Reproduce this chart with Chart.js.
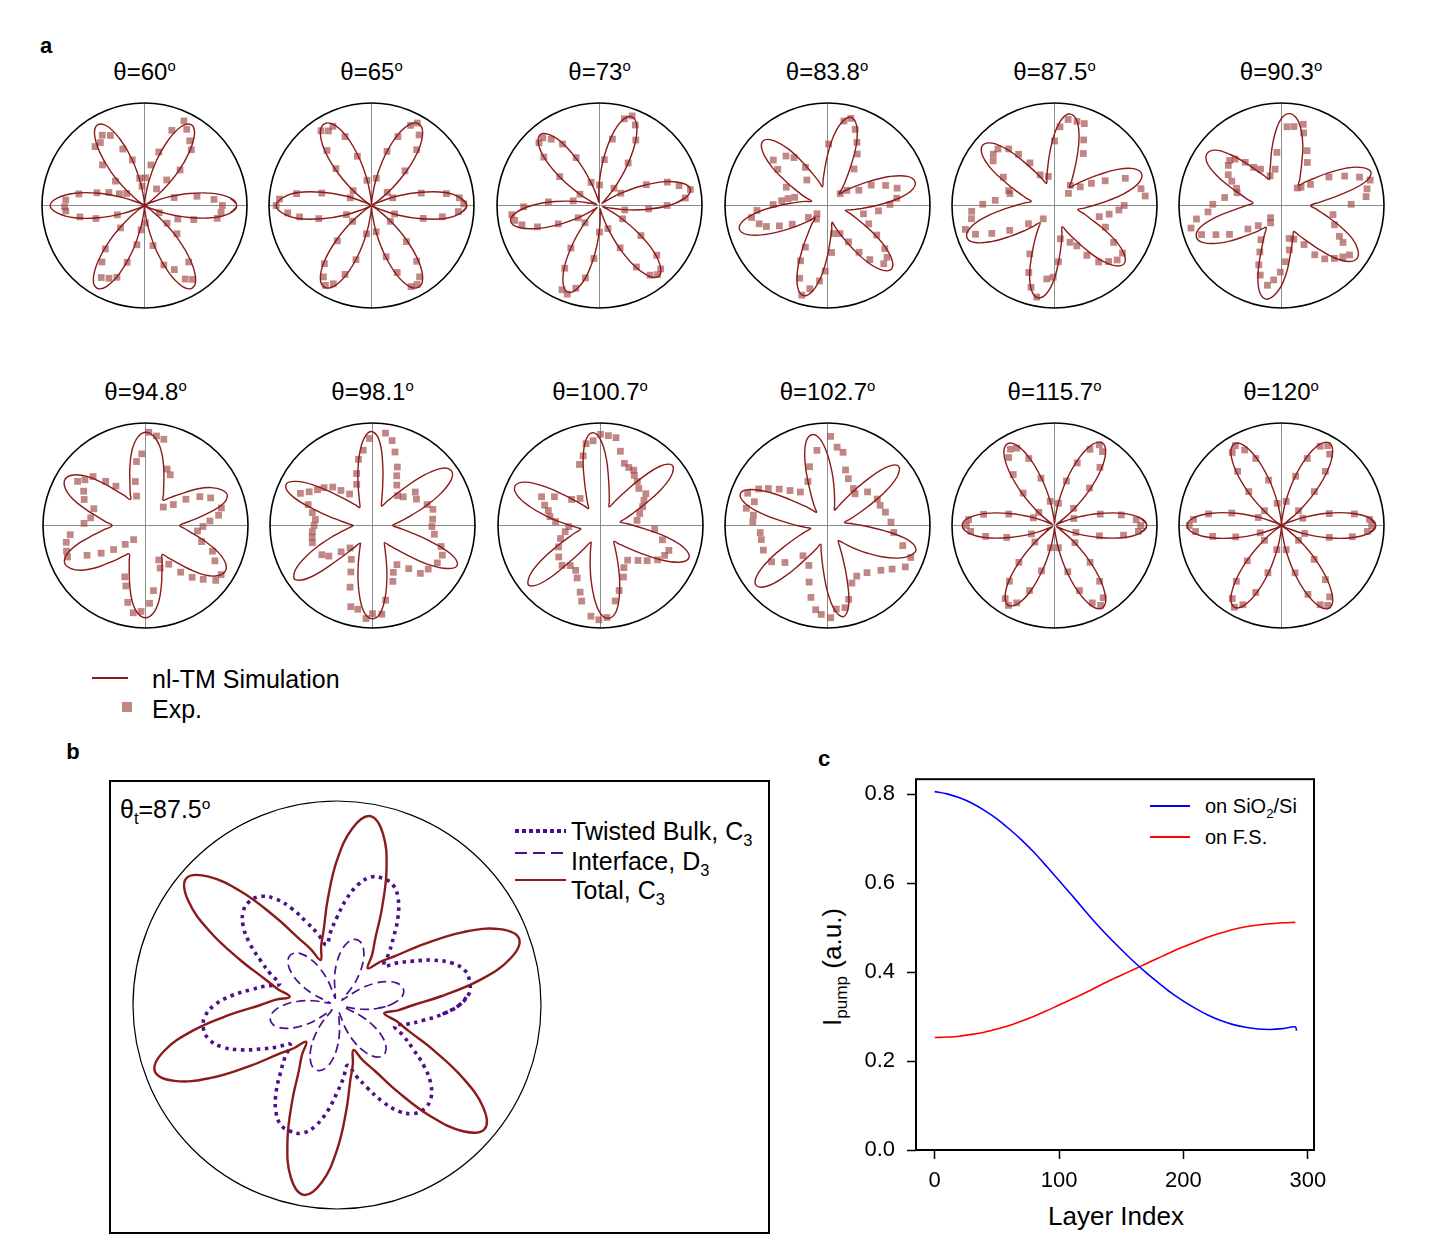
<!DOCTYPE html>
<html>
<head>
<meta charset="utf-8">
<script src="https://cdn.jsdelivr.net/npm/chart.js@4.4.1/dist/chart.umd.min.js"></script>
<style>
  body { margin: 0; background: #fff; }
  #fig { position: relative; width: 1438px; height: 1245px; overflow: hidden; font-family: "Liberation Sans", Arial, sans-serif; color: #000; }
  #fig canvas { position: absolute; }
  .t { position: absolute; white-space: nowrap; line-height: 1; }
  .c { transform: translate(-50%, -50%); }
  .l { transform: translate(0, -50%); }
  .sup { font-size: 62%; position: relative; top: -0.55em; }
  .sub { font-size: 66%; position: relative; top: 0.35em; }
  .ttl { font-size: 24px; }
  .box { position: absolute; left: 109px; top: 780px; width: 661px; height: 454px; border: 2px solid #000; box-sizing: border-box; }
</style>
</head>
<body>
<div id="fig">
  <div class="t c" style="left:46px;top:46px;font-size:22px;font-weight:bold;">a</div>
  <div class="t c" style="left:73px;top:752px;font-size:22px;font-weight:bold;">b</div>
  <div class="t c" style="left:824px;top:759px;font-size:22px;font-weight:bold;">c</div>

  <!-- legend of panel a -->
  <div style="position:absolute;left:92px;top:677px;width:36px;height:2px;background:#8b1a1a;"></div>
  <div class="t l" style="left:152px;top:679px;font-size:25px;">nl-TM Simulation</div>
  <div style="position:absolute;left:122px;top:702px;width:10px;height:10px;background:rgba(160,70,68,0.65);"></div>
  <div class="t l" style="left:152px;top:709px;font-size:25px;">Exp.</div>

  <!-- panel b frame and texts -->
  <div class="box"></div>
  <div class="t l" style="left:120px;top:809px;font-size:25px;">θ<span class="sub">t</span>=87.5<span class="sup">o</span></div>
  <div style="position:absolute;left:515px;top:829px;width:51px;height:3.5px;background:repeating-linear-gradient(90deg,#4b0f8f 0 3.5px,transparent 3.5px 7px);"></div>
  <div style="position:absolute;left:515px;top:852px;width:51px;height:2px;background:repeating-linear-gradient(90deg,#4b0f8f 0 12px,transparent 12px 18px);"></div>
  <div style="position:absolute;left:515px;top:879px;width:51px;height:2px;background:#8b1a1a;"></div>
  <div class="t l" style="left:571px;top:831px;font-size:25px;">Twisted Bulk, C<span class="sub">3</span></div>
  <div class="t l" style="left:571px;top:861px;font-size:25px;">Interface, D<span class="sub">3</span></div>
  <div class="t l" style="left:571px;top:890px;font-size:25px;">Total, C<span class="sub">3</span></div>

  <!-- panel c texts -->
  <div class="t c" style="left:832px;top:967px;font-size:26px;transform:translate(-50%,-50%) rotate(-90deg);">I<span class="sub">pump</span> (a.u.)</div>
  <div class="t c" style="left:1116px;top:1216px;font-size:26px;">Layer Index</div>
  <div style="position:absolute;left:1150px;top:805px;width:40px;height:2px;background:#0000ff;"></div>
  <div class="t l" style="left:1205px;top:806px;font-size:20px;">on SiO<span class="sub">2</span>/Si</div>
  <div style="position:absolute;left:1150px;top:836px;width:40px;height:2px;background:#ff0000;"></div>
  <div class="t l" style="left:1205px;top:837px;font-size:20px;">on F.S.</div>
</div>

<script>
Chart.defaults.font.family = '"Liberation Sans", Arial, sans-serif';
Chart.defaults.color = '#000';

// ---------- panel a : polarisation patterns ----------
const simAngles = [0,5,10,15,20,25,30,35,40,45,50,55,60,65,70,75,80,85,90,95,100,105,110,115,
  120,125,130,135,140,145,150,155,160,165,170,175,180,185,190,195,200,205,210,215,220,225,230,235,
  240,245,250,255,260,265,270,275,280,285,290,295,300,305,310,315,320,325,330,335,340,345,350,355];

const twistAngles = ['60', '65', '73', '83.8', '87.5', '90.3', '94.8', '98.1', '100.7', '102.7', '115.7', '120'];

// simulated radius (fraction of the outer circle) at each of simAngles
const sim60 = [.90,.84,.68,.45,.23,.06,0,.06,.23,.46,.68,.85, .91,.85,.68,.46,.23,.06,0,.06,.23,.46,.68,.85,
  .91,.85,.68,.46,.23,.06,0,.06,.23,.46,.69,.85, .92,.85,.69,.46,.23,.06,0,.06,.23,.47,.70,.87,
  .93,.87,.70,.47,.23,.06,0,.06,.23,.47,.70,.87, .93,.87,.70,.47,.23,.06,0,.06,.23,.45,.68,.84];
const sim65 = [.93,.87,.73,.50,.27,.08,.01,.08,.27,.50,.72,.87, .92,.87,.72,.50,.27,.08,.01,.08,.27,.50,.72,.87,
  .92,.87,.72,.50,.27,.08,.01,.08,.27,.50,.73,.87, .93,.87,.73,.50,.27,.08,.01,.08,.27,.50,.72,.87,
  .92,.87,.72,.50,.27,.08,.01,.08,.27,.50,.72,.87, .92,.87,.72,.50,.27,.08,.01,.08,.27,.50,.73,.87];
const sim73 = [.68,.84,.90,.84,.68,.45,.23,.08,.03,.08,.24,.46, .69,.86,.92,.86,.69,.46,.24,.08,.03,.08,.23,.45,
  .68,.84,.90,.84,.68,.45,.23,.08,.03,.08,.23,.44, .66,.82,.88,.82,.66,.44,.23,.08,.03,.08,.23,.45,
  .68,.84,.90,.84,.68,.45,.23,.08,.03,.08,.23,.45, .68,.84,.90,.84,.68,.45,.23,.08,.03,.08,.23,.45];
const sim83 = [.48,.67,.83,.885,.83,.67,.47,.32,.225,.16,.23,.32, .47,.67,.83,.89,.83,.68,.49,.34,.25,.19,.25,.34,
  .49,.68,.83,.89,.83,.67,.47,.32,.23,.16,.23,.32, .47,.67,.83,.89,.83,.67,.48,.33,.235,.17,.24,.33,
  .49,.69,.85,.91,.85,.69,.49,.33,.24,.17,.23,.33, .475,.67,.82,.88,.82,.67,.48,.33,.24,.18,.24,.335];
const sim87 = [.38,.52,.70,.85,.905,.85,.70,.52,.38,.29,.23,.29, .38,.52,.70,.85,.905,.85,.70,.52,.38,.29,.23,.29,
  .38,.52,.71,.86,.915,.86,.71,.52,.38,.29,.23,.29, .38,.52,.705,.855,.91,.855,.70,.52,.38,.28,.22,.28,
  .38,.52,.71,.86,.915,.86,.71,.52,.38,.28,.22,.28, .37,.51,.69,.83,.886,.83,.69,.51,.37,.29,.23,.29];
const sim90 = [.285,.38,.56,.82,.93,.875,.73,.55,.41,.32,.26,.31,.375,.47,.61,.75,.86,.90,.85,.71,.55,.415,.335,.28,
  .335,.41,.54,.70,.84,.885,.84,.70,.54,.41,.335,.28,.345,.455,.645,.82,.885,.85,.74,.60,.465,.375,.305,.26,
  .335,.455,.66,.85,.925,.885,.78,.635,.49,.395,.33,.28,.335,.415,.545,.715,.85,.90,.86,.76,.62,.49,.395,.33];
const sim94 = [.335,.42,.58,.77,.85,.82,.74,.625,.50,.41,.345,.30,.35,.42,.525,.66,.79,.88,.91,.865,.75,.59,.445,.355,
  .293,.355,.445,.585,.745,.86,.905,.865,.755,.60,.47,.385,.325,.39,.505,.675,.815,.87,.84,.76,.645,.52,.43,.36,
  .318,.375,.465,.595,.75,.86,.90,.86,.75,.60,.47,.385,.326,.385,.47,.60,.75,.855,.897,.86,.75,.605,.475,.39];
const sim98 = [.197,.234,.30,.40,.55,.73,.885,.937,.864,.675,.47,.34,.26,.21,.266,.38,.58,.816,.915,.866,.72,.55,.41,.31,
  .25,.215,.265,.344,.473,.675,.86,.933,.83,.576,.368,.25,.19,.227,.29,.394,.54,.716,.87,.92,.778,.466,.288,.21,
  .245,.308,.406,.546,.714,.861,.91,.861,.712,.543,.40,.30,.24,.204,.254,.33,.46,.66,.84,.913,.813,.57,.37,.254];
const sim100 = [.324,.245,.194,.244,.324,.453,.655,.842,.914,.814,.571,.371,.257,.20,.25,.328,.455,.654,.838,.909,
  .838,.655,.457,.33,.252,.203,.253,.332,.46,.661,.847,.918,.867,.715,.542,.397,.295,.23,.194,.244,.323,.452,
  .652,.838,.91,.766,.448,.267,.188,.224,.289,.39,.534,.707,.859,.909,.86,.711,.542,.401,.302,.238,.203,.253,
  .332,.46,.661,.847,.918,.846,.657,.455];
const sim102 = [.341,.225,.167,.219,.299,.432,.638,.829,.903,.80,.549,.342,.224,.165,.202,.268,.371,.517,.693,.848,
  .899,.826,.635,.431,.299,.218,.167,.219,.30,.433,.639,.831,.905,.831,.639,.431,.298,.217,.165,.217,.299,.433,
  .641,.835,.909,.838,.652,.451,.323,.244,.194,.244,.321,.449,.647,.831,.902,.801,.556,.355,.24,.182,.21,.267,
  .353,.467,.609,.752,.858,.894,.792,.545];
const sim115 = [.90,.84,.68,.45,.23,.07,.02,.07,.24,.47,.70,.87, .93,.87,.70,.47,.24,.07,.02,.07,.24,.46,.69,.86,
  .92,.86,.69,.46,.24,.07,.02,.07,.23,.45,.68,.84, .90,.84,.68,.45,.23,.07,.02,.07,.23,.45,.68,.84,
  .90,.84,.68,.45,.23,.07,.02,.07,.24,.47,.70,.87, .93,.87,.70,.47,.24,.07,.02,.07,.23,.45,.68,.84];
const sim120 = [.92,.86,.69,.46,.23,.06,0,.06,.24,.47,.70,.87, .93,.87,.70,.47,.24,.06,0,.06,.23,.46,.69,.86,
  .92,.86,.69,.46,.23,.06,0,.06,.23,.46,.69,.86, .92,.86,.69,.46,.23,.06,0,.06,.23,.46,.69,.86,
  .92,.86,.69,.46,.23,.06,0,.06,.24,.47,.70,.87, .93,.87,.70,.47,.24,.06,0,.06,.23,.46,.69,.86];

// measured points: [angle in degrees, radius as fraction of the outer circle]
const exp60 = [[65,.91],[61,.85],[70,.78],[55,.77],[50,.71],[45,.49],[75,.54],[81,.40],[49,.33],[121,.80],[116,.76],
  [130,.75],[125,.75],[136,.57],[111,.59],[105,.46],[140,.37],[100,.27],[88,.27],[97,.19],[170,.65],[165,.48],[160,.37],
  [155,.27],[176,.77],[181,.78],[184,.77],[190,.64],[195,.49],[199,.28],[146,.21],[223,.32],[233,.69],[239,.82],[244,.79],
  [249,.75],[253,.58],[259,.39],[262,.24],[228,.57],[273,.17],[282,.40],[288,.61],[322,.28],[319,.42],[308,.70],[299,.82],
  [303,.86],[295,.69],[334,.16],[338,.35],[344,.50],[350,.72],[355,.75],[0,.76],[5,.68],[10,.52],[15,.30],[54,.20]];
const exp65 = [[340,.24],[346,.52],[351,.70],[356,.85],[1,.90],[5,.86],[9,.74],[14,.50],[20,.22],
  [40,.20],[46,.47],[51,.70],[56,.83],[61,.92],[64,.87],[69,.72],[74,.55],[80,.27],
  [100,.25],[106,.50],[111,.72],[116,.86],[120,.84],[124,.88],[129,.69],[134,.50],[141,.23],
  [160,.22],[166,.50],[171,.74],[176,.90],[180,.93],[185,.82],[189,.71],[194,.53],[200,.26],
  [220,.24],[226,.48],[231,.73],[236,.84],[240,.90],[244,.85],[249,.72],[254,.55],[260,.28],
  [280,.26],[286,.52],[291,.70],[296,.88],[300,.89],[304,.84],[309,.70],[314,.49],[320,.24]];
const exp73 = [[350,.25],[356,.48],[0,.66],[5,.84],[10,.90],[14,.80],[19,.70],[24,.50],[30,.24],
  [50,.22],[56,.50],[61,.73],[66,.86],[70,.93],[74,.88],[79,.66],[84,.45],[90,.20],
  [110,.24],[116,.52],[121,.70],[126,.80],[130,.86],[134,.85],[139,.72],[144,.48],[150,.22],
  [170,.26],[176,.50],[181,.74],[186,.86],[190,.84],[194,.78],[199,.64],[204,.44],[210,.24],
  [230,.22],[236,.50],[241,.70],[246,.90],[250,.92],[254,.84],[259,.72],[264,.52],[270,.26],
  [290,.24],[296,.46],[301,.70],[306,.84],[310,.88],[314,.86],[319,.74],[324,.50],[330,.26]];
const exp83 = [[79,.84],[75,.88],[70,.79],[65,.68],[60,.58],[54,.44],[89,.60],
  [140,.69],[130,.63],[125,.57],[144,.60],[120,.43],[156,.44],[166,.33],[170,.39],[174,.45],[179,.53],[129,.32],
  [184,.69],[189,.75],[195,.69],[199,.63],[203,.51],[208,.39],[212,.22],[218,.13],
  [282,.28],[275,.46],[268,.64],[264,.74],[258,.83],[254,.91],[249,.76],[244,.60],[242,.46],[231,.17],
  [294,.30],[300,.41],[304,.55],[308,.67],[314,.79],[319,.77],[323,.70],[329,.56],[336,.44],[347,.36],
  [354,.50],[1,.61],[6,.68],[14,.70],[19,.60],[25,.47],[26,.34],[38,.24],[43,.17]];
const exp87 = [[86,.77],[81,.85],[75,.85],[70,.85],[66,.70],[61,.58],[90,.63],[102,.29],[115,.33],
  [41,.18],[52,.25],[36,.31],[31,.42],[26,.55],[21,.74],[11,.86],[6,.89],[0,.68],[356,.63],[351,.54],[346,.45],
  [337,.54],[328,.68],[325,.81],[319,.81],[314,.76],[308,.70],[303,.58],[299,.45],[293,.39],[280,.33],
  [274,.55],[269,.70],[264,.72],[259,.91],[254,.83],[249,.70],[243,.53],[230,.17],
  [215,.31],[209,.50],[204,.67],[200,.82],[195,.90],[189,.82],[184,.81],[179,.70],[175,.58],[165,.45],[162,.47],
  [151,.57],[144,.74],[140,.78],[135,.78],[129,.71],[125,.61],[120,.48]];
const exp90 = [[86,.77],[81,.78],[75,.82],[73,.74],[65,.59],[59,.49],[95,.52],[100,.36],[111,.31],
  [139,.67],[135,.64],[143,.65],[150,.60],[130,.55],[126,.46],[120,.41],[154,.54],[159,.47],[164,.45],
  [172,.56],[179,.67],[185,.72],[189,.84],[194,.91],[200,.83],[204,.70],[209,.58],[215,.40],[221,.30],[228,.16],[238,.20],
  [283,.33],[290,.35],[280,.44],[274,.55],[269,.65],[264,.73],[260,.79],[253,.71],[249,.62],[245,.50],[239,.39],
  [300,.44],[304,.58],[309,.67],[315,.73],[320,.78],[324,.82],[329,.70],[332,.64],[340,.55],[350,.51],[1,.68],
  [6,.83],[11,.85],[16,.90],[20,.81],[25,.68],[31,.54],[36,.35],[43,.26],[48,.23]];
const exp94 = [[88,.91],[83,.88],[78,.86],[93,.70],[98,.63],[103,.44],[69,.59],[64,.55],[46,.25],[107,.30],
  [147,.79],[143,.74],[137,.70],[132,.58],[127,.48],[151,.69],[157,.65],[162,.53],[172,.54],[178,.60],
  [187,.74],[192,.79],[198,.81],[202,.82],[207,.64],[212,.51],[217,.39],[223,.27],[230,.18],
  [291,.36],[289,.44],[277,.64],[273,.76],[267,.84],[262,.86],[257,.77],[252,.62],[248,.54],
  [301,.44],[307,.57],[312,.68],[317,.77],[322,.87],[327,.88],[333,.76],[339,.70],[344,.57],[354,.51],
  [359,.56],[4,.63],[8,.72],[13,.76],[23,.69],[28,.60],[33,.47],[37,.34]];
const exp98 = [[82,.91],[77,.85],[73,.75],[67,.62],[64,.54],[59,.46],[50,.38],[43,.41],[92,.85],[97,.74],[102,.66],[107,.53],
  [156,.77],[152,.70],[147,.64],[142,.60],[136,.54],[132,.46],[126,.38],[111,.43],
  [162,.66],[168,.60],[174,.56],[180,.57],[186,.59],[191,.60],[196,.61],[210,.57],[215,.52],[220,.40],[225,.31],
  [238,.39],[245,.50],[250,.64],[255,.82],[260,.83],[266,.91],[270,.86],[276,.87],[280,.74],[290,.58],[294,.50],[302,.45],
  [310,.55],[315,.66],[322,.69],[330,.73],[337,.74],[343,.70],[352,.61],[359,.58],
  [6,.59],[15,.61],[21,.57],[31,.50],[38,.53]];
const exp100 = [[90,.89],[85,.88],[80,.87],[75,.75],[69,.65],[64,.63],[59,.63],[56,.59],[50,.56],[44,.52],[95,.83],[100,.81],[104,.70],[109,.63],
  [35,.54],[30,.49],[24,.45],[17,.40],[8,.36],[356,.53],[347,.62],[340,.71],[335,.69],[329,.65],[323,.57],[317,.50],[308,.43],
  [299,.47],[294,.55],[286,.66],[281,.75],[274,.90],[269,.92],[264,.89],
  [256,.76],[253,.68],[246,.56],[241,.50],[233,.49],[226,.54],[217,.51],[207,.46],[198,.41],[190,.35],[182,.31],
  [175,.44],[170,.50],[164,.53],[160,.58],[154,.64],[148,.53],[138,.38],[127,.33]];
const exp102 = [[88,.87],[83,.77],[78,.73],[72,.57],[66,.50],[55,.44],[49,.41],[40,.51],[28,.55],[21,.55],[13,.58],[3,.62],
  [354,.65],[345,.76],[339,.87],[332,.86],[326,.76],[320,.68],[310,.60],[300,.57],[293,.61],[286,.75],[282,.82],[276,.82],
  [272,.90],[266,.87],[262,.83],[257,.72],[252,.58],[245,.43],[231,.38],[221,.55],[213,.65],[201,.67],[192,.66],[186,.66],
  [177,.73],[172,.73],[168,.81],[162,.75],[158,.84],[152,.76],[148,.68],[143,.59],[137,.50],[129,.42],[114,.47],[107,.60],[98,.74]];
const exp115 = [[342,.22],[347,.45],[352,.68],[356,.82],[0,.84],[4,.80],[9,.66],[14,.46],[20,.20],
  [42,.25],[47,.50],[52,.72],[57,.86],[61,.90],[65,.82],[70,.65],[75,.45],[80,.22],
  [100,.24],[106,.48],[111,.70],[116,.84],[120,.86],[124,.80],[129,.64],[134,.44],[140,.20],
  [160,.22],[166,.46],[171,.70],[176,.84],[180,.86],[184,.82],[189,.68],[194,.48],[200,.24],
  [220,.25],[226,.50],[231,.70],[236,.86],[240,.90],[244,.84],[249,.68],[254,.46],[260,.22],
  [280,.22],[286,.47],[291,.68],[296,.84],[300,.90],[304,.85],[309,.70],[314,.50],[320,.26]];
const exp120 = [[341,.24],[346,.48],[351,.70],[356,.84],[0,.88],[4,.86],[9,.72],[14,.48],[19,.22],
  [41,.22],[46,.46],[51,.68],[56,.84],[60,.90],[64,.86],[69,.70],[74,.50],[79,.24],
  [101,.22],[106,.46],[111,.70],[116,.82],[120,.90],[124,.86],[129,.68],[134,.46],[139,.22],
  [161,.24],[166,.50],[171,.72],[176,.86],[180,.90],[184,.84],[189,.68],[194,.46],[199,.22],
  [221,.22],[226,.48],[231,.70],[236,.86],[240,.92],[244,.86],[249,.70],[254,.48],[259,.24],
  [281,.24],[286,.48],[291,.72],[296,.86],[300,.90],[304,.84],[309,.68],[314,.46],[319,.22]];

const simCurves = [sim60, sim65, sim73, sim83, sim87, sim90, sim94, sim98, sim100, sim102, sim115, sim120];
const expCurves = [exp60, exp65, exp73, exp83, exp87, exp90, exp94, exp98, exp100, exp102, exp115, exp120];

// ---------- panel b : contributions at 87.5 deg ----------
const bTotal = [.375,.52,.715,.88,.95,.88,.715,.52,.375,.30,.235,.30, .375,.52,.71,.87,.94,.87,.71,.52,.375,.30,.235,.30,
  .38,.525,.72,.89,.965,.89,.72,.525,.38,.30,.235,.30, .375,.52,.715,.88,.95,.88,.715,.52,.375,.30,.235,.30,
  .375,.52,.71,.875,.945,.875,.71,.52,.375,.30,.235,.30, .375,.52,.71,.875,.945,.875,.71,.52,.375,.30,.235,.30];
const bBulk = [.60,.65,.66,.65,.60,.52,.43,.36,.30,.36,.43,.52, .60,.65,.66,.65,.60,.52,.43,.36,.30,.36,.43,.52,
  .60,.65,.665,.65,.60,.52,.43,.36,.30,.36,.43,.52, .60,.65,.665,.65,.60,.52,.43,.36,.30,.36,.43,.52,
  .60,.65,.66,.65,.60,.52,.43,.36,.30,.36,.43,.52, .60,.65,.665,.65,.60,.52,.43,.36,.30,.36,.43,.52];
const bInterface = [.26,.306,.331,.333,.313,.271,.211,.136,.052,.035,.12,.197, .26,.306,.331,.333,.313,.271,.211,.136,.052,.035,.12,.197,
  .26,.306,.331,.333,.313,.271,.211,.136,.052,.035,.12,.197, .26,.306,.331,.333,.313,.271,.211,.136,.052,.035,.12,.197,
  .26,.306,.331,.333,.313,.271,.211,.136,.052,.035,.12,.197, .26,.306,.331,.333,.313,.271,.211,.136,.052,.035,.12,.197];

// ---------- panel c : pump intensity vs layer ----------
const layersSiO2 = [0,10,20,30,40,50,60,70,80,90,100,110,120,130,140,150,160,170,180,190,200,210,220,230,240,250,260,270,280,290,291];
const pumpSiO2 = [0.806,0.801,0.792,0.780,0.764,0.745,0.722,0.697,0.669,0.638,0.606,0.574,0.541,0.509,0.479,0.451,0.424,0.399,
  0.376,0.354,0.335,0.318,0.303,0.291,0.282,0.276,0.272,0.271,0.273,0.277,0.268];
const layersFS = [0,10,20,30,40,50,60,70,80,90,100,110,120,130,140,150,160,170,180,190,200,210,220,230,240,250,260,270,280,290];
const pumpFS = [0.253,0.254,0.256,0.260,0.265,0.272,0.280,0.290,0.301,0.313,0.326,0.339,0.352,0.366,0.380,0.393,0.406,0.419,
  0.432,0.445,0.457,0.468,0.479,0.488,0.496,0.502,0.506,0.509,0.511,0.512];

// ---------- layout ----------
const SIM_RED = 'rgb(139,26,26)';
const EXP_FILL = 'rgba(160,70,68,0.65)';
const PURPLE = '#4b0f8f';
const panelCenters = [[144.5,205.5],[371.5,205.5],[599.5,205.5],[827,205.5],[1054.5,205.5],[1281,205.5],
  [145.5,525.5],[372.5,525.5],[600,525.5],[827.5,525.5],[1054.5,525.5],[1281,525.5]];

const fig = document.getElementById('fig');

function toXY(angles, radii) {
  return radii.map((r, i) => ({ x: r * Math.cos(angles[i] * Math.PI / 180), y: r * Math.sin(angles[i] * Math.PI / 180) }));
}
function pairsToXY(pairs) {
  return pairs.map(p => ({ x: p[1] * Math.cos(p[0] * Math.PI / 180), y: p[1] * Math.sin(p[0] * Math.PI / 180) }));
}
// wrap the ends so the smoothed curve closes on itself
function closed(pts) {
  return [pts[pts.length - 1]].concat(pts, [pts[0], pts[1]]);
}

const polarFrame = {
  id: 'polarFrame',
  beforeDatasetsDraw(chart, args, opts) {
    const { ctx, scales: { x, y } } = chart;
    const cx = x.getPixelForValue(0), cy = y.getPixelForValue(0);
    const r = x.getPixelForValue(1) - cx;
    ctx.save();
    if (opts.cross) {
      ctx.strokeStyle = '#8c8c8c';
      ctx.lineWidth = 1;
      ctx.beginPath();
      ctx.moveTo(cx - r, cy); ctx.lineTo(cx + r, cy);
      ctx.moveTo(cx, cy - r); ctx.lineTo(cx, cy + r);
      ctx.stroke();
    }
    ctx.strokeStyle = '#000';
    ctx.lineWidth = opts.width;
    ctx.beginPath();
    ctx.arc(cx, cy, r, 0, 2 * Math.PI);
    ctx.stroke();
    ctx.restore();
  }
};

function addCanvas(left, top, w, h) {
  const cv = document.createElement('canvas');
  cv.width = w; cv.height = h;
  cv.style.left = left + 'px'; cv.style.top = top + 'px';
  cv.style.width = w + 'px'; cv.style.height = h + 'px';
  fig.appendChild(cv);
  return cv;
}

function polarOptions(pad, cross, width) {
  return {
    responsive: false, animation: false, events: [],
    layout: { padding: pad },
    scales: {
      x: { type: 'linear', min: -1, max: 1, display: false },
      y: { type: 'linear', min: -1, max: 1, display: false }
    },
    plugins: { legend: { display: false }, tooltip: { enabled: false }, polarFrame: { cross: cross, width: width } }
  };
}

panelCenters.forEach(function (c, i) {
  const title = document.createElement('div');
  title.className = 't c ttl';
  title.style.left = c[0] + 'px';
  title.style.top = (c[1] - 134) + 'px';
  title.innerHTML = 'θ=' + twistAngles[i] + '<span class="sup">o</span>';
  fig.appendChild(title);

  const cv = addCanvas(c[0] - 107.5, c[1] - 107.5, 215, 215);
  new Chart(cv, {
    type: 'scatter',
    data: {
      datasets: [{
        data: closed(toXY(simAngles, simCurves[i])),
        showLine: true, borderColor: SIM_RED, borderWidth: 1.4, pointRadius: 0, tension: 0.4, fill: false
      }, {
        data: pairsToXY(expCurves[i]),
        showLine: false, pointStyle: 'rect', pointRadius: 4.8, backgroundColor: EXP_FILL, borderWidth: 0
      }]
    },
    options: polarOptions(5, true, 1.6),
    plugins: [polarFrame]
  });
});

// panel b
{
  const cv = addCanvas(128, 796, 418, 418);
  new Chart(cv, {
    type: 'scatter',
    data: {
      datasets: [{
        data: closed(toXY(simAngles, bTotal)),
        showLine: true, borderColor: SIM_RED, borderWidth: 2.4, pointRadius: 0, tension: 0.4
      }, {
        data: closed(toXY(simAngles, bBulk)),
        showLine: true, borderColor: PURPLE, borderWidth: 3.6, borderDash: [3.5, 4.5], pointRadius: 0, tension: 0.4
      }, {
        data: closed(toXY(simAngles, bInterface)),
        showLine: true, borderColor: PURPLE, borderWidth: 1.7, borderDash: [9, 5], pointRadius: 0, tension: 0.4
      }]
    },
    options: polarOptions(5, false, 1.2),
    plugins: [polarFrame]
  });
}

// panel c
{
  const frame = {
    id: 'frame',
    afterDatasetsDraw(chart) {
      const a = chart.chartArea, ctx = chart.ctx;
      ctx.save();
      ctx.strokeStyle = '#000';
      ctx.lineWidth = 2;
      ctx.strokeRect(a.left, a.top, a.right - a.left, a.bottom - a.top);
      ctx.restore();
    }
  };
  // canvas placed so that the plot frame spans x 916-1314, y 779-1150
  const cv = addCanvas(830, 754, 508, 436);
  new Chart(cv, {
    type: 'line',
    data: {
      datasets: [{
        label: 'on SiO2/Si',
        data: layersSiO2.map((v, i) => ({ x: v, y: pumpSiO2[i] })),
        borderColor: '#0000ff', borderWidth: 1.6, pointRadius: 0, tension: 0.3
      }, {
        label: 'on F.S.',
        data: layersFS.map((v, i) => ({ x: v, y: pumpFS[i] })),
        borderColor: '#ff0000', borderWidth: 1.6, pointRadius: 0, tension: 0.3
      }]
    },
    options: {
      responsive: false, animation: false, events: [],
      layout: { padding: { top: 0, right: 24, left: 0, bottom: 0 } },
      scales: {
        x: {
          type: 'linear', min: -15, max: 305,
          border: { display: false },
          grid: { drawOnChartArea: false, drawTicks: true, tickLength: 9, color: '#000', tickWidth: 1.5 },
          ticks: { stepSize: 100, includeBounds: false, padding: 9, font: { size: 22 }, color: '#000', maxRotation: 0 },
          afterFit: s => { s.height = 40; }
        },
        y: {
          min: 0, max: 0.834,
          border: { display: false },
          grid: { drawOnChartArea: false, drawTicks: true, tickLength: 9, color: '#000', tickWidth: 1.5 },
          ticks: { stepSize: 0.2, includeBounds: false, padding: 12, font: { size: 22 }, color: '#000',
            callback: v => v.toFixed(1) },
          afterFit: s => { s.width = 86; }
        }
      },
      plugins: { legend: { display: false }, tooltip: { enabled: false } }
    },
    plugins: [frame]
  });
  // the source figure is cropped just after the last x label
  const crop = document.createElement('div');
  crop.style.cssText = 'position:absolute;left:1326px;top:1158px;width:30px;height:40px;background:#fff;';
  fig.appendChild(crop);
}
</script>
</body>
</html>
